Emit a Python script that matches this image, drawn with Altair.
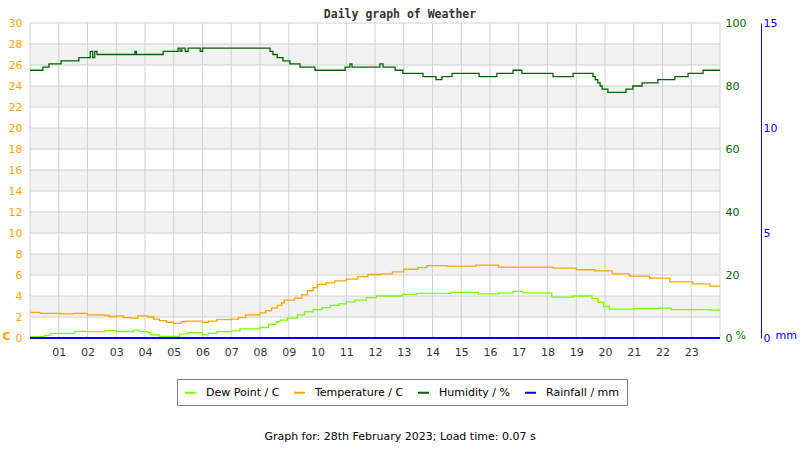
import altair as alt
import pandas as pd

title_text = "Daily graph of Weather"
footer_text = "Graph for: 28th February 2023; Load time: 0.07 s"
series_names = ["Dew Point / C", "Temperature / C", "Humidity / %", "Rainfall / mm"]
series_colors = ["#7cfc00", "#ffa500", "#006400", "#0000ff"]

hour_ticks = list(range(1, 24))
grid_hours = list(range(0, 25))
temp_ticks = list(range(0, 31, 2))
band_lo = [2, 6, 10, 14, 18, 22, 26]
band_hi = [4, 8, 12, 16, 20, 24, 28]
hum_ticks = [0, 20, 40, 60, 80, 100]
rain_ticks = [0, 5, 10, 15]

temp_hours = [0, 0.35, 1.05, 1.5, 2.0, 2.6, 2.75, 3.0, 3.25, 3.5,
              3.75, 4.1, 4.3, 4.5, 4.75, 5.0, 5.25, 5.45, 6.0, 6.2,
              6.5, 7.0, 7.25, 7.5, 8.0, 8.2, 8.4, 8.6, 8.75, 8.85,
              9.2, 9.45, 9.65, 9.85, 10.0, 10.3, 10.6, 11.0, 11.4, 11.75,
              12.2, 12.6, 13.0, 13.5, 13.8, 14.5, 15.5, 16.3, 18.2, 19.0,
              19.65, 20.25, 20.85, 21.55, 22.25, 23.05, 23.65, 24]
temp_values = [2.45, 2.35, 2.3, 2.35, 2.2, 2.15, 2.05, 2.1, 1.95, 1.9,
               2.1, 2.0, 1.8, 1.65, 1.5, 1.4, 1.55, 1.6, 1.5, 1.6,
               1.75, 1.8, 1.95, 2.2, 2.4, 2.6, 2.85, 3.1, 3.35, 3.6,
               3.8, 4.1, 4.5, 4.8, 5.1, 5.25, 5.45, 5.6, 5.85, 6.05,
               6.1, 6.3, 6.55, 6.7, 6.9, 6.85, 6.95, 6.75, 6.65, 6.5,
               6.4, 6.1, 5.9, 5.7, 5.35, 5.15, 4.95, 4.95]

dew_hours = [0, 0.5, 0.7, 1.55, 2.1, 2.6, 3.0, 3.6, 3.8, 4.1,
             4.2, 4.5, 5.2, 5.5, 6.0, 6.2, 6.5, 7.0, 7.3, 8.0,
             8.3, 8.55, 8.7, 8.95, 9.3, 9.55, 9.85, 10.15, 10.45, 10.75,
             11.0, 11.3, 11.7, 12.05, 12.95, 13.45, 14.65, 15.6, 16.3, 16.8,
             17.15, 18.15, 18.9, 19.55, 19.75, 19.95, 20.15, 21.0, 21.85, 22.3,
             23.65, 24]
dew_values = [0.12, 0.25, 0.45, 0.64, 0.6, 0.7, 0.62, 0.75, 0.6, 0.5,
              0.3, 0.15, 0.4, 0.5, 0.3, 0.45, 0.6, 0.67, 0.86, 1.0,
              1.3, 1.55, 1.7, 1.9, 2.2, 2.5, 2.7, 2.9, 3.1, 3.25,
              3.45, 3.6, 3.85, 4.0, 4.15, 4.25, 4.35, 4.2, 4.3, 4.45,
              4.3, 3.9, 4.0, 3.75, 3.4, 3.0, 2.75, 2.8, 2.85, 2.7,
              2.65, 2.65]

hum_hours = [0, 0.45, 0.66, 1.08, 1.70, 2.10, 2.18, 2.25, 2.33, 3.65,
             3.70, 4.63, 5.15, 5.22, 5.28, 5.40, 5.50, 5.92, 6.00, 8.35,
             8.45, 8.60, 8.80, 9.04, 9.39, 9.91, 10.96, 11.13, 11.20, 12.17,
             12.28, 12.70, 12.97, 13.67, 14.12, 14.33, 14.68, 15.62, 16.24, 16.80,
             17.11, 18.19, 18.89, 19.58, 19.66, 19.75, 19.83, 19.90, 20.10, 20.73,
             20.97, 21.29, 21.84, 22.43, 22.89, 23.41, 24]
hum_values = [85, 86, 87, 88, 89, 91, 89, 91, 90, 91,
              90, 91, 92, 91, 92, 91, 92, 91, 92, 91,
              90, 89, 88, 87, 86, 85, 86, 87, 86, 87,
              86, 85, 84, 83, 82, 83, 84, 83, 84, 85,
              84, 83, 84, 83, 82, 81, 80, 79, 78, 79,
              80, 81, 82, 83, 84, 85, 85]

rain_hours = [0, 24]
rain_values = [0, 0]

FONT = "DejaVu Sans"

c_df = pd.concat([
    pd.DataFrame({"hour": dew_hours, "value": dew_values, "series": series_names[0]}),
    pd.DataFrame({"hour": temp_hours, "value": temp_values, "series": series_names[1]}),
])
hum_df = pd.DataFrame({"hour": hum_hours, "value": hum_values, "series": series_names[2]})
rain_df = pd.DataFrame({"hour": rain_hours, "value": rain_values, "series": series_names[3]})
band_df = pd.DataFrame({"lo": band_lo, "hi": band_hi})
hgrid_df = pd.DataFrame({"gy": temp_ticks})
vgrid_df = pd.DataFrame({"gx": grid_hours})
footer_df = pd.DataFrame({"t": [footer_text]})

x_scale = alt.Scale(domain=[0, 24], nice=False, zero=False)
x_axis = alt.Axis(values=hour_ticks,
                  labelExpr="datum.value < 10 ? '0' + datum.value : '' + datum.value",
                  domain=False, ticks=False, grid=False, labelColor="#333333",
                  labelFont=FONT, labelFontSize=11, labelPadding=8,
                  labelOverlap=False, labelFlush=False, title=None)

c_scale = alt.Scale(domain=[0, 30], nice=False, zero=False)
c_axis = alt.Axis(values=temp_ticks, orient="left", domain=False, ticks=False, grid=False,
                  labelColor="#ffa500", labelFont=FONT, labelFontSize=11, labelPadding=8,
                  labelOverlap=False, labelFlush=False,
                  title="C", titleAngle=0, titleX=-28, titleY=316, titleAlign="left",
                  titleBaseline="alphabetic", titleColor="#ffa500", titleFont=FONT,
                  titleFontSize=11, titleFontWeight="bold")

hum_scale = alt.Scale(domain=[0, 100], nice=False, zero=False)
hum_axis = alt.Axis(values=hum_ticks, orient="right", domain=False, ticks=False, grid=False,
                    labelColor="#006400", labelFont=FONT, labelFontSize=11, labelPadding=5,
                    labelOverlap=False, labelFlush=False,
                    title="%", titleAngle=0, titleX=15, titleY=315, titleAlign="left",
                    titleBaseline="alphabetic", titleColor="#006400", titleFont=FONT,
                    titleFontSize=11, titleFontWeight="normal")

rain_scale = alt.Scale(domain=[0, 15], nice=False, zero=False)
rain_axis = alt.Axis(values=rain_ticks, orient="right", offset=41, domain=True,
                     domainColor="#0000ff", domainWidth=1, ticks=False, grid=False,
                     labelColor="#0000ff", labelFont=FONT, labelFontSize=11, labelPadding=2,
                     labelOverlap=False, labelFlush=False,
                     title="mm", titleAngle=0, titleX=14, titleY=315, titleAlign="left",
                     titleBaseline="alphabetic", titleColor="#0000ff", titleFont=FONT,
                     titleFontSize=11, titleFontWeight="normal")

color_scale = alt.Scale(domain=series_names, range=series_colors)
legend = alt.Legend(orient="none", legendX=147, legendY=356, direction="horizontal",
                    title=None, symbolType="stroke", symbolSize=121, symbolStrokeWidth=2,
                    labelFont=FONT, labelFontSize=11, labelColor="#000000",
                    strokeColor="#808080", fillColor="#ffffff", padding=7,
                    labelOffset=9, columnPadding=10)


def X(field):
    return alt.X(f"{field}:Q", scale=x_scale, axis=x_axis)


bands = alt.Chart(band_df).mark_rect(color="#f2f2f2").encode(
    x=alt.datum(0, scale=x_scale, axis=x_axis), x2=alt.datum(24),
    y=alt.Y("lo:Q", scale=c_scale, axis=c_axis), y2="hi:Q")
hgrid = alt.Chart(hgrid_df).mark_rule(color="#d0d0d0", strokeWidth=1).encode(
    y=alt.Y("gy:Q", scale=c_scale, axis=c_axis))
vgrid = alt.Chart(vgrid_df).mark_rule(color="#d0d0d0", strokeWidth=1).encode(
    x=X("gx"))
c_lines = alt.Chart(c_df).mark_line(strokeWidth=1.3, interpolate="step-after").encode(
    x=X("hour"),
    y=alt.Y("value:Q", scale=c_scale, axis=c_axis),
    color=alt.Color("series:N", scale=color_scale, legend=legend),
    detail="series:N")

c_layer = alt.layer(bands, hgrid, vgrid, c_lines)

hum_layer = alt.Chart(hum_df).mark_line(strokeWidth=1.3, interpolate="step-after").encode(
    x=X("hour"),
    y=alt.Y("value:Q", scale=hum_scale, axis=hum_axis),
    color=alt.Color("series:N", scale=color_scale, legend=legend))

rain_layer = alt.Chart(rain_df).mark_line(strokeWidth=2).encode(
    x=X("hour"),
    y=alt.Y("value:Q", scale=rain_scale, axis=rain_axis),
    color=alt.Color("series:N", scale=color_scale, legend=legend))

footer = alt.Chart(footer_df).mark_text(font=FONT, fontSize=11, color="#000000",
                                         align="center", baseline="middle").encode(
    text="t:N", x=alt.value(370), y=alt.value(414))

chart = alt.layer(c_layer, hum_layer, rain_layer, footer).resolve_scale(
    y="independent"
).properties(
    width=690, height=315,
    padding={"left": 30, "top": 23, "right": 80, "bottom": 112},
    autosize=alt.AutoSizeParams(type="none"),
    title=alt.TitleParams(text=title_text, font="DejaVu Sans Mono", fontSize=11.5,
                          fontWeight="bold", color="#333333", anchor="middle",
                          dx=25, offset=-3, frame="group"),
).configure(font=FONT).configure_view(stroke=None)

chart.save("out.html", embed_options={"renderer": "svg", "actions": False})
